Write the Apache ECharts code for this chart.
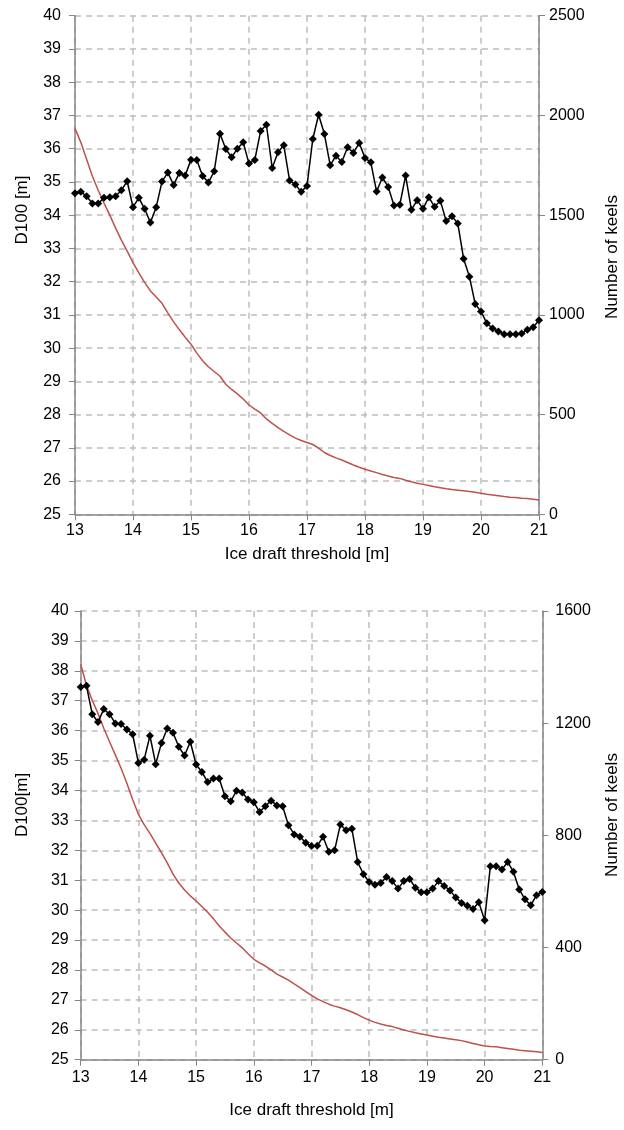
<!DOCTYPE html>
<html>
<head>
<meta charset="utf-8">
<script src="https://cdn.jsdelivr.net/npm/echarts@6/dist/echarts.min.js"></script>
<style>
html,body{margin:0;padding:0;background:#fff;}
#chart{width:624px;height:1130px;}
</style>
</head>
<body>
<div id="chart"></div>
<script>
// Ice draft thresholds [m]
var thresholds = [13.0,13.1,13.2,13.3,13.4,13.5,13.6,13.7,13.8,13.9,
  14.0,14.1,14.2,14.3,14.4,14.5,14.6,14.7,14.8,14.9,
  15.0,15.1,15.2,15.3,15.4,15.5,15.6,15.7,15.8,15.9,
  16.0,16.1,16.2,16.3,16.4,16.5,16.6,16.7,16.8,16.9,
  17.0,17.1,17.2,17.3,17.4,17.5,17.6,17.7,17.8,17.9,
  18.0,18.1,18.2,18.3,18.4,18.5,18.6,18.7,18.8,18.9,
  19.0,19.1,19.2,19.3,19.4,19.5,19.6,19.7,19.8,19.9,
  20.0,20.1,20.2,20.3,20.4,20.5,20.6,20.7,20.8,20.9,21.0];

// Top panel
var d100Top = [34.66,34.70,34.57,34.35,34.35,34.52,34.54,34.57,34.75,35.02,
  34.24,34.52,34.19,33.78,34.24,35.01,35.28,34.91,35.27,35.19,
  35.67,35.66,35.18,34.98,35.32,36.45,35.99,35.74,36.00,36.19,
  35.55,35.66,36.53,36.72,35.42,35.89,36.10,35.04,34.92,34.70,
  34.88,36.29,37.02,36.44,35.50,35.79,35.60,36.04,35.87,36.17,
  35.72,35.59,34.71,35.13,34.85,34.29,34.31,35.19,34.16,34.45,
  34.19,34.54,34.25,34.43,33.82,33.97,33.75,32.69,32.15,31.33,
  31.10,30.75,30.59,30.50,30.42,30.42,30.42,30.44,30.55,30.63,30.84];
var keelsTop = [1935,1865,1780,1695,1625,1560,1500,1435,1375,1320,
  1262,1210,1163,1120,1090,1058,1010,965,925,888,
  853,808,770,740,716,692,652,626,604,578,
  548,527,508,478,456,435,416,398,382,370,
  360,350,332,310,295,283,272,260,247,236,
  226,217,209,200,192,185,180,171,163,156,
  150,144,138,133,128,124,121,118,114,110,
  106,101,97,93,89,86,84,81,79,76,72];

// Bottom panel
var d100Bottom = [37.46,37.50,36.55,36.29,36.72,36.55,36.24,36.22,36.04,35.88,
  34.92,35.03,35.83,34.88,35.59,36.07,35.93,35.46,35.17,35.63,
  34.87,34.62,34.28,34.40,34.40,33.81,33.64,33.99,33.93,33.70,
  33.61,33.28,33.47,33.66,33.50,33.47,32.84,32.53,32.45,32.25,
  32.14,32.15,32.45,31.95,32.00,32.86,32.67,32.72,31.61,31.20,
  30.94,30.85,30.91,31.11,30.97,30.72,30.97,31.04,30.75,30.60,
  30.60,30.72,30.97,30.81,30.66,30.42,30.24,30.15,30.04,30.26,
  29.66,31.47,31.47,31.36,31.61,31.28,30.69,30.36,30.16,30.50,30.61];
var keelsBottom = [1410,1335,1282,1235,1182,1134,1087,1039,986,928,
  875,838,807,772,738,702,662,630,605,584,
  566,546,526,503,477,455,434,416,399,378,
  358,345,334,320,305,295,284,270,257,243,
  229,217,207,198,191,185,178,170,161,150,
  141,133,127,122,118,112,106,101,96,92,
  88,84,80,77,74,71,68,63,58,53,
  49,47,46,43,40,37,34,32,30,28,26];

var xName = 'Ice draft threshold [m]';
var leftNameTop = 'D100 [m]';
var leftNameBottom = 'D100[m]';
var rightName = 'Number of keels';

function pairs(xs, ys){ return xs.map(function(x,i){ return [x, ys[i]]; }); }

var FONT = 'Liberation Sans, Arial, sans-serif';
var axisGray = '#868686';
var gridGray = '#bdbdbd';
var TICK_FS = 16, NAME_FS = 17;

function xAxisCfg(gi, gap, margin){
  return {
    gridIndex: gi, type:'value', min:13, max:21, interval:1,
    name: xName, nameLocation:'middle', nameGap:gap,
    nameTextStyle:{fontFamily:FONT, fontSize:NAME_FS, color:'#000'},
    axisLine:{show:true, onZero:false, lineStyle:{color:axisGray, width:1.5}},
    axisTick:{show:true, length:6, lineStyle:{color:axisGray}},
    axisLabel:{fontFamily:FONT, fontSize:TICK_FS, color:'#000', margin:margin},
    splitLine:{show:true, lineStyle:{color:gridGray, type:[6,5], width:1.5}}
  };
}
function leftCfg(gi, margin){
  return {
    gridIndex: gi, type:'value', min:25, max:40, interval:1, position:'left',
    axisLine:{show:true, lineStyle:{color:axisGray, width:1.5}},
    axisTick:{show:true, length:6, lineStyle:{color:axisGray}},
    axisLabel:{fontFamily:FONT, fontSize:TICK_FS, color:'#000', margin:margin},
    splitLine:{show:true, lineStyle:{color:gridGray, type:[6,5], width:1.5}}
  };
}
function rightCfg(gi, max, interval, margin){
  return {
    gridIndex: gi, type:'value', min:0, max:max, interval:interval, position:'right',
    axisLine:{show:true, lineStyle:{color:axisGray, width:1.5}},
    axisTick:{show:true, length:6, lineStyle:{color:axisGray}},
    axisLabel:{fontFamily:FONT, fontSize:TICK_FS, color:'#000', margin:margin,
               formatter:function(v){ return String(v); }},
    splitLine:{show:false}
  };
}
function vText(txt, x, y){
  return {type:'text', x:x, y:y, rotation:Math.PI/2,
    style:{text:txt, fontFamily:FONT, fontSize:NAME_FS, fill:'#000', align:'center', verticalAlign:'middle'}};
}

var chart = echarts.init(document.getElementById('chart'), null, {renderer:'canvas'});
chart.setOption({
  animation:false,
  backgroundColor:'#fff',
  grid:[
    {left:75, right:85, top:15.7, height:498.6},
    {left:80.7, right:81.7, top:611, height:448.7}
  ],
  xAxis:[xAxisCfg(0, 32, 8), xAxisCfg(1, 42, 10)],
  yAxis:[leftCfg(0, 14), rightCfg(0, 2500, 500, 10), leftCfg(1, 12), rightCfg(1, 1600, 400, 13)],
  graphic:[
    vText(leftNameTop, 22, 210),
    vText(rightName, 612, 257),
    vText(leftNameBottom, 22, 805),
    vText(rightName, 612, 815)
  ],
  series:[
    {type:'line', xAxisIndex:0, yAxisIndex:1, data:pairs(thresholds, keelsTop),
     showSymbol:false, lineStyle:{color:'#c0504d', width:1.5}, z:2},
    {type:'line', xAxisIndex:0, yAxisIndex:0, data:pairs(thresholds, d100Top),
     symbol:'diamond', symbolSize:8, itemStyle:{color:'#000'}, lineStyle:{color:'#000', width:1.5}, z:3},
    {type:'line', xAxisIndex:1, yAxisIndex:3, data:pairs(thresholds, keelsBottom),
     showSymbol:false, lineStyle:{color:'#c0504d', width:1.5}, z:2},
    {type:'line', xAxisIndex:1, yAxisIndex:2, data:pairs(thresholds, d100Bottom),
     symbol:'diamond', symbolSize:8, itemStyle:{color:'#000'}, lineStyle:{color:'#000', width:1.5}, z:3}
  ]
});
</script>
</body>
</html>
